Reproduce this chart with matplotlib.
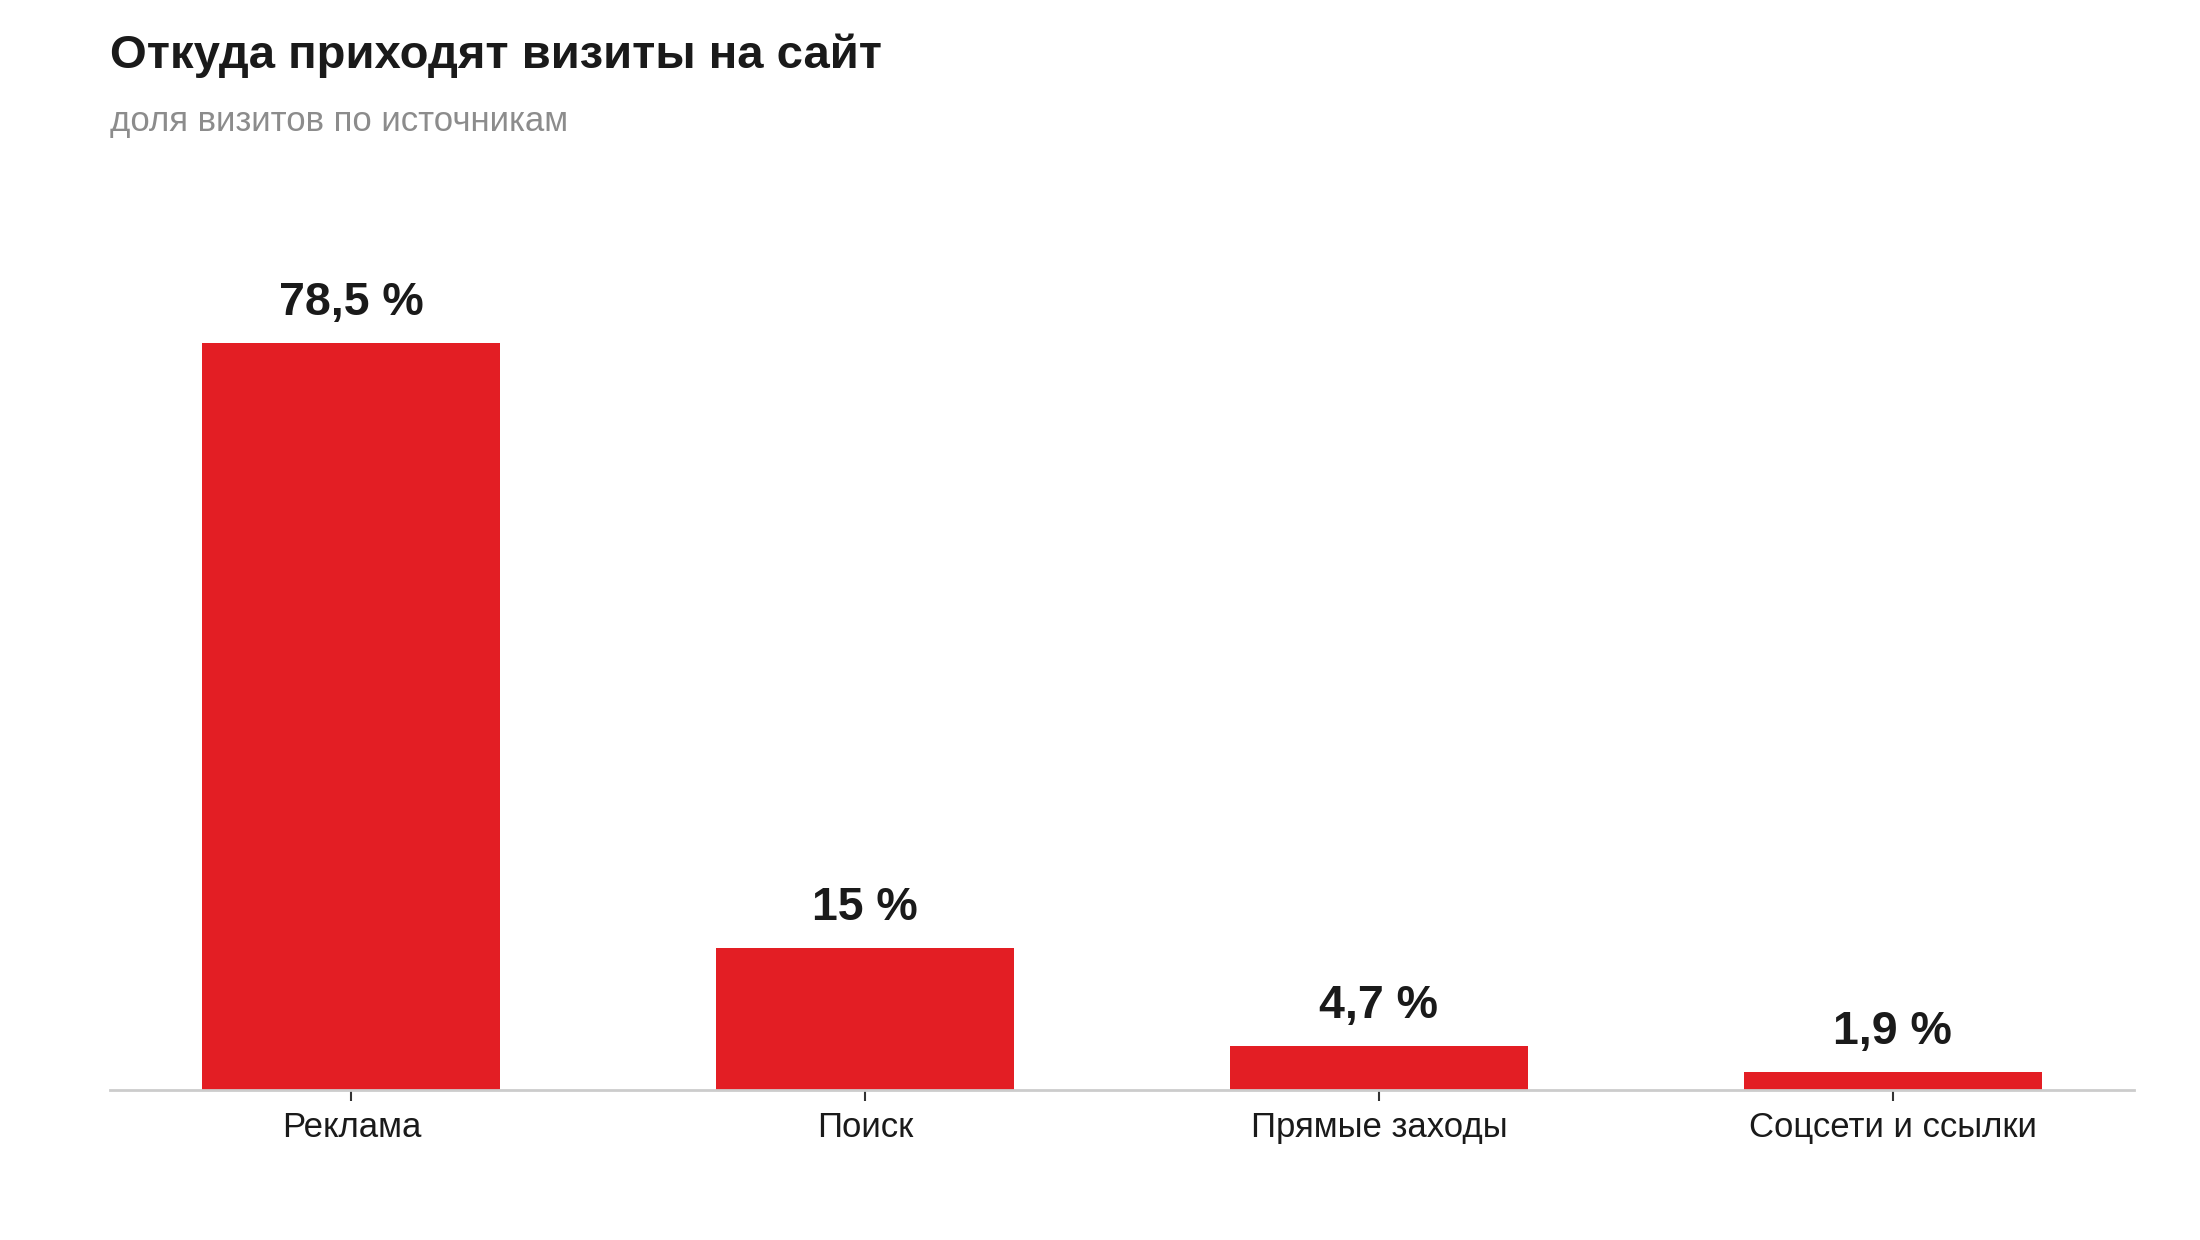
import matplotlib
matplotlib.use("Agg")
import matplotlib.pyplot as plt

plt.rcParams['font.family'] = ['Liberation Sans', 'DejaVu Sans']

# data
sources = ['Реклама', 'Поиск', 'Прямые заходы', 'Соцсети и ссылки']
shares = [78.5, 15, 4.7, 1.9]
value_labels = ['78,5 %', '15 %', '4,7 %', '1,9 %']

title = 'Откуда приходят визиты на сайт'
subtitle = 'доля визитов по источникам'

bar_color = '#e31e24'
text_color = '#1a1a1a'

fig = plt.figure(figsize=(22, 12.4), dpi=100)
ax = fig.add_axes([0.05, 0.1206, 0.920, 0.7097])

x = range(len(sources))
ax.bar(x, shares, width=0.58, color=bar_color, zorder=2)

for xi, v, lab in zip(x, shares, value_labels):
    ax.annotate(lab, (xi, v), xytext=(0, 13), textcoords='offset points',
                ha='center', va='bottom', fontsize=33.5, fontweight='bold',
                color=text_color)

ax.set_xlim(-0.47, len(sources) - 0.53)
ax.set_ylim(0, 92.4)
ax.set_xticks(list(x))
ax.set_xticklabels(sources, fontsize=25, color=text_color)
ax.tick_params(axis='x', length=8, width=1.5, color='#333333', pad=7)
ax.set_yticks([])

for side in ['top', 'right', 'left']:
    ax.spines[side].set_visible(False)
ax.spines['bottom'].set_color('#cccccc')
ax.spines['bottom'].set_linewidth(2)

fig.text(0.05, 0.973, title, fontsize=34, fontweight='bold', color=text_color,
         ha='left', va='top')
fig.text(0.05, 0.902, subtitle, fontsize=25, color='#8c8c8c',
         ha='left', va='center')

fig.savefig('out.png', dpi=100)
